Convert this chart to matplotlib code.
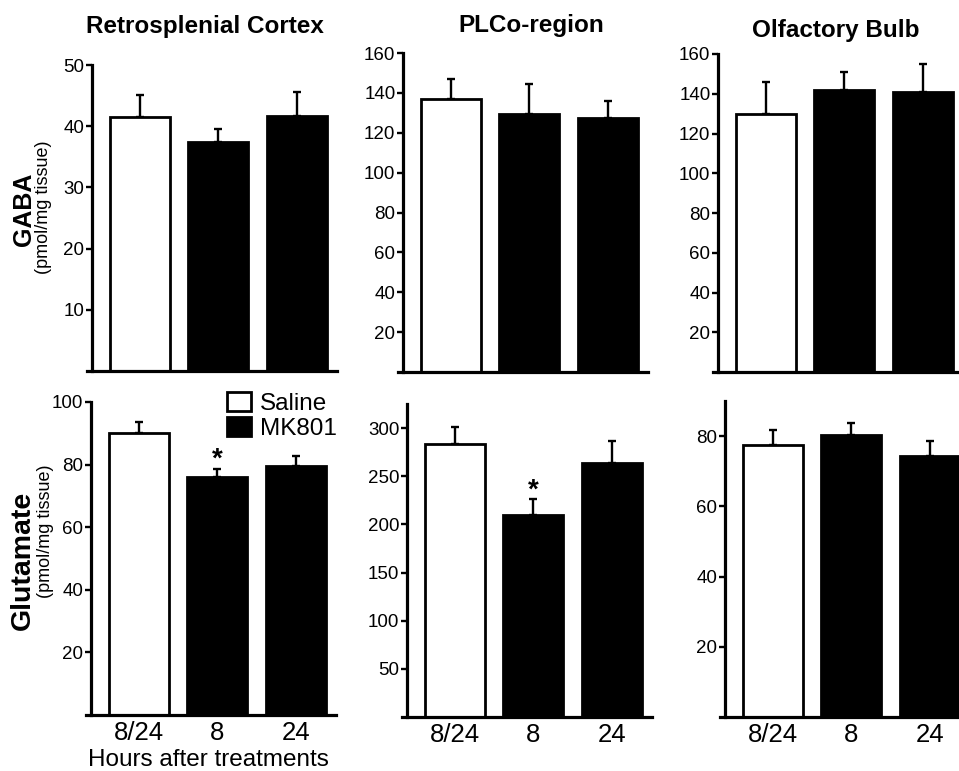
import matplotlib
matplotlib.use("Agg")
import matplotlib.pyplot as plt
from matplotlib.patches import Patch

plt.rcParams['font.family'] = ['Liberation Sans', 'DejaVu Sans']

# groups on the x axis
groups = ["8/24", "8", "24"]
fills = ["white", "black", "black"]

# GABA (pmol/mg tissue)
gaba_retro = [41.5, 37.4, 41.6]
gaba_retro_err = [3.6, 2.1, 4.0]
gaba_plco = [136.7, 129.6, 127.6]
gaba_plco_err = [10.5, 15.1, 8.1]
gaba_ob = [129.6, 142.0, 141.0]
gaba_ob_err = [16.1, 8.7, 14.0]

# Glutamate (pmol/mg tissue)
glu_retro = [90.0, 76.0, 79.7]
glu_retro_err = [3.5, 2.7, 3.2]
glu_plco = [283.0, 210.0, 264.0]
glu_plco_err = [18.0, 16.0, 23.0]
glu_ob = [77.5, 80.3, 74.4]
glu_ob_err = [4.3, 3.5, 4.2]

# significance marks (index of bar)
glu_retro_sig = [1]
glu_plco_sig = [1]

titles = ["Retrosplenial Cortex", "PLCo-region", "Olfactory Bulb"]

W, H = 959, 771
fig = plt.figure(figsize=(W / 100, H / 100), dpi=100)

X0, X1 = -0.67, 2.52
SPINE_X = -0.605
UNIT = 78.5


def make_axes(spine_px, top_px, zero_px):
    left = spine_px - 5
    width = (X1 - X0) * UNIT
    return fig.add_axes([left / W, 1 - zero_px / H, width / W, (zero_px - top_px) / H])


def panel(ax, vals, errs, ymax, yticks, bottom_row, sig=()):
    x = list(range(len(vals)))
    ax.bar(x, vals, width=0.765, color=fills, edgecolor="black", linewidth=2.0,
           zorder=2)
    ax.errorbar(x, vals, yerr=[[0] * len(errs), errs], fmt="none", ecolor="black",
                elinewidth=1.7, capsize=3, capthick=1.7, zorder=1)
    for i in sig:
        ax.annotate("*", (i, vals[i] + errs[i]), xytext=(0, -3), textcoords="offset points",
                    ha="center", va="bottom", fontsize=20, fontweight="bold")
    ax.set_xlim(X0, X1)
    ax.set_ylim(0, ymax)
    for s in ["top", "right"]:
        ax.spines[s].set_visible(False)
    ax.spines["left"].set_position(("data", SPINE_X))
    ax.spines["left"].set_linewidth(2.3)
    ax.spines["bottom"].set_linewidth(2.3)
    ax.set_yticks(yticks)
    ax.tick_params(axis="y", length=4, width=1.7, pad=1.5, labelsize=13.5)
    if bottom_row:
        ax.set_xticks(x)
        ax.set_xticklabels(groups)
        ax.tick_params(axis="x", length=0, pad=4, labelsize=18.5)
    else:
        ax.set_xticks([])


ax1 = make_axes(92, 65, 371)
panel(ax1, gaba_retro, gaba_retro_err, 50, [10, 20, 30, 40, 50], False)
ax2 = make_axes(403, 53, 372)
panel(ax2, gaba_plco, gaba_plco_err, 160, range(20, 161, 20), False)
ax3 = make_axes(718, 54, 372)
panel(ax3, gaba_ob, gaba_ob_err, 160, range(20, 161, 20), False)

ax4 = make_axes(91, 402, 715)
panel(ax4, glu_retro, glu_retro_err, 100, [20, 40, 60, 80, 100], True, glu_retro_sig)
ax5 = make_axes(407, 404, 717)
panel(ax5, glu_plco, glu_plco_err, 325, [50, 100, 150, 200, 250, 300], True, glu_plco_sig)
ax6 = make_axes(725, 401, 717)
panel(ax6, glu_ob, glu_ob_err, 90, [20, 40, 60, 80], True)

# column titles
for cx, by, t in zip([205, 531, 836], [33, 32, 37], titles):
    fig.text(cx / W, 1 - by / H, t, ha="center", va="baseline", fontsize=17.5,
             fontweight="bold")

# row labels
fig.text(23.5 / W, 1 - 209 / H, "GABA", rotation=90, ha="center", va="center",
         fontsize=18, fontweight="bold")
fig.text(43.5 / W, 1 - 207 / H, "(pmol/mg tissue)", rotation=90, ha="center",
         va="center", fontsize=13)
fig.text(23 / W, 1 - 560 / H, "Glutamate", rotation=90, ha="center", va="center",
         fontsize=20.5, fontweight="bold")
fig.text(45 / W, 1 - 531 / H, "(pmol/mg tissue)", rotation=90, ha="center",
         va="center", fontsize=13)

fig.text(208 / W, 1 - 760 / H, "Hours after treatments", ha="center", va="center",
         fontsize=17.5)

handles = [Patch(facecolor="white", edgecolor="black", linewidth=2.0, label="Saline"),
           Patch(facecolor="black", edgecolor="black", linewidth=2.0, label="MK801")]
fig.legend(handles=handles, loc="upper left", bbox_to_anchor=(227 / W, 1 - 392 / H),
           frameon=False, fontsize=17.5, handlelength=1.0, handleheight=0.8,
           handletextpad=0.35, labelspacing=0.1, borderpad=0, borderaxespad=0)

fig.savefig("out.png", dpi=100)
